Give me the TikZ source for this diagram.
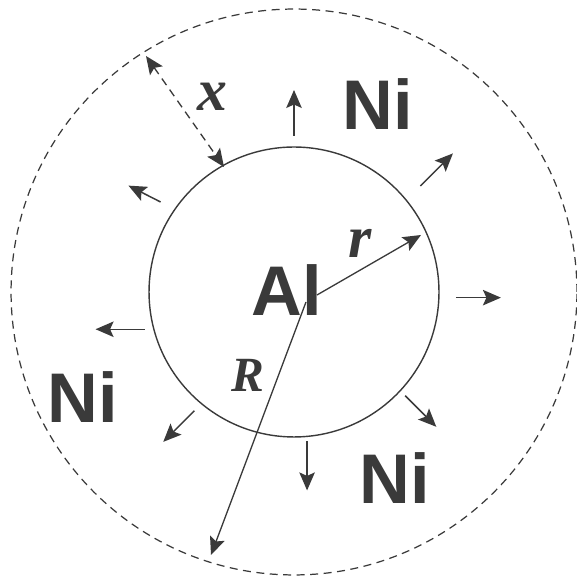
\documentclass[tikz,border=0pt]{standalone}
\usepackage{fontspec}
\setmainfont{Liberation Serif}
\setsansfont{Liberation Sans}
\usepackage{tikz}
\usetikzlibrary{arrows.meta,calc}
\definecolor{Ink}{HTML}{3A3A3A}
\tikzset{
  tip/.style={Stealth[length=3.6mm,width=3.1mm,inset=0.7mm]},
  core/.style={draw=Ink,line width=0.8pt},
  shell/.style={draw=Ink,line width=0.7pt,dash pattern=on 1.6mm off 1.1mm},
  flux/.style={-{Stealth[length=3.6mm,width=3.1mm,inset=0.7mm]},draw=Ink,line width=0.85pt},
  span/.style={-{Stealth[length=3.6mm,width=3.1mm,inset=0.7mm]},draw=Ink,line width=0.75pt},
  gap/.style={{Stealth[length=3.6mm,width=3.1mm,inset=0.7mm]}-{Stealth[length=3.6mm,width=3.1mm,inset=0.7mm]},
              draw=Ink,line width=0.75pt,dash pattern=on 1.6mm off 1.1mm},
  elem/.style={text=Ink,inner sep=0pt,font=\sffamily\bfseries\fontsize{40}{40}\selectfont},
  sym/.style={text=Ink,inner sep=0pt,font=\rmfamily\bfseries\itshape\fontsize{34}{34}\selectfont}
}

\begin{document}
\begin{tikzpicture}[x=0.02cm,y=0.02cm]
  \useasboundingbox (0,0) rectangle (576,584);
  \coordinate (c) at (294,292);
  \draw[shell] (c) circle[radius=5.66cm];
  \draw[core] (c) circle[radius=2.9cm];

  \node[elem] (al) at (287,294) {Al};
  \node[elem] (niTop) at (378,480) {Ni};
  \node[elem] (niLeft) at (83,187) {Ni};
  \node[elem] (niBottom) at (395,106) {Ni};

  % outward flux of Al into the Ni shell
  \foreach \a/\s/\d/\l in {90/156/90/46, 40/165/45/46, -2/162/0/45, -43/152/-45/44,
                           -85/150/-90/49, -130/155/-135/44, 194/154/180/49, 146/161/153/36}
    \draw[flux] ($(c)+(\a:\s)$) -- ++(\d:\l);

  \coordinate (rTail) at (317,289);
  \coordinate (rHead) at (421,349);
  \coordinate (RTail) at (306,282);
  \coordinate (RHead) at (211,29);
  \coordinate (xIn) at (224,417);
  \coordinate (xOut) at (146,528);

  \draw[span] (rTail) -- (rHead);
  \draw[span] (RTail) -- (RHead);
  \draw[gap] (xOut) -- (xIn);

  \node[sym] (labx) at (212,487) {x};
  \node[sym] (labr) at (360,341) {r};
  \node[sym,font=\rmfamily\bfseries\itshape\fontsize{28}{28}\selectfont] (labR) at (248,209) {R};
\end{tikzpicture}
\end{document}
